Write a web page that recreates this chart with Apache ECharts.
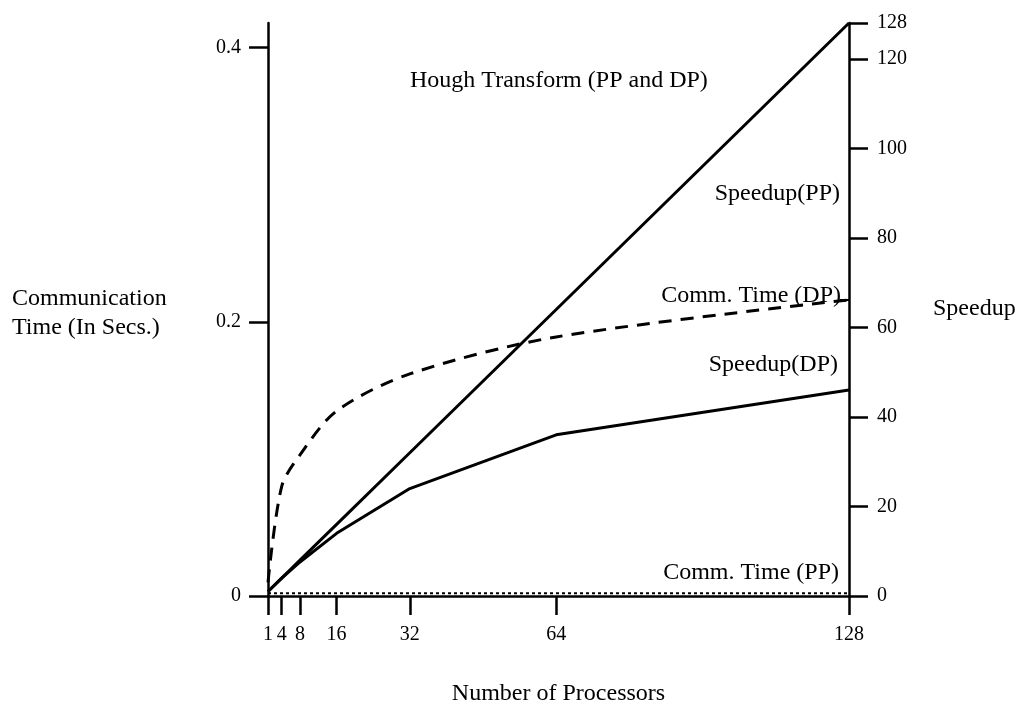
<!DOCTYPE html>
<html>
<head>
<meta charset="utf-8">
<script src="https://cdn.jsdelivr.net/npm/echarts@6/dist/echarts.min.js"></script>
<style>
    html, body { margin: 0; padding: 0; background: #fff; }
    #chart { width: 1020px; height: 703px; }
</style>
</head>
<body>
<div id="chart"></div>
<script>
    // 处理器数量
    var processors = [1, 4, 8, 16, 32, 64, 128];
    // 加速比
    var speedupPP = [1, 4, 8, 16, 32, 64, 128];
    var speedupDP = [1, 4, 7.6, 14, 24, 36, 46];
    // 通信时间 (秒)
    var commTimeDP = [0.01, 0.08, 0.103, 0.135, 0.162, 0.189, 0.216];
    var commTimePP = [0.002, 0.002, 0.002, 0.002, 0.002, 0.002, 0.002];
    // 刻度
    var leftTicks = [0, 0.2, 0.4];
    var rightTicks = [0, 20, 40, 60, 80, 100, 120, 128];

    function pairs(xs, ys) {
        return xs.map(function (x, i) { return [x, ys[i]]; });
    }

    var font = "Liberation Serif";
    var ink = "#000";
    var bigFont = "24px " + font;

    var myChart = echarts.init(document.getElementById("chart"));
    myChart.setOption({
        animation: false,
        textStyle: { fontFamily: font, color: ink },
        grid: { left: 268, right: 171, top: 23, bottom: 107, outerBoundsMode: "none" },
        xAxis: {
            type: "value",
            min: 1,
            max: 128,
            name: "Number of Processors",
            nameLocation: "middle",
            nameGap: 86,
            nameTextStyle: { fontFamily: font, fontSize: 24, color: ink },
            axisLine: { lineStyle: { color: ink, width: 2.5 } },
            axisTick: { length: 19, customValues: processors, lineStyle: { color: ink, width: 2.5 } },
            axisLabel: { customValues: processors, margin: 29, fontFamily: font, fontSize: 20, color: ink },
            splitLine: { show: false }
        },
        yAxis: [{
            type: "value",
            position: "left",
            min: 0,
            max: 0.418,
            axisLine: { show: true, lineStyle: { color: ink, width: 2.5 } },
            axisTick: { show: true, length: 19, customValues: leftTicks, lineStyle: { color: ink, width: 2.5 } },
            axisLabel: { customValues: leftTicks, margin: 27, fontFamily: font, fontSize: 20, color: ink },
            splitLine: { show: false }
        }, {
            type: "value",
            position: "right",
            min: 0,
            max: 128,
            axisLine: { show: true, lineStyle: { color: ink, width: 2.5 } },
            axisTick: { show: true, length: 19, customValues: rightTicks, lineStyle: { color: ink, width: 2.5 } },
            axisLabel: { customValues: rightTicks, margin: 28, fontFamily: font, fontSize: 20, color: ink },
            splitLine: { show: false }
        }],
        series: [{
            name: "Speedup(PP)",
            type: "line",
            yAxisIndex: 1,
            showSymbol: false,
            data: pairs(processors, speedupPP),
            lineStyle: { color: ink, width: 3 }
        }, {
            name: "Speedup(DP)",
            type: "line",
            yAxisIndex: 1,
            showSymbol: false,
            data: pairs(processors, speedupDP),
            lineStyle: { color: ink, width: 3 }
        }, {
            name: "Comm. Time (DP)",
            type: "line",
            yAxisIndex: 0,
            showSymbol: false,
            smooth: 0.3,
            data: pairs(processors, commTimeDP),
            lineStyle: { color: ink, width: 3, type: [13, 9] }
        }, {
            name: "Comm. Time (PP)",
            type: "line",
            yAxisIndex: 0,
            showSymbol: false,
            data: pairs(processors, commTimePP),
            lineStyle: { color: ink, width: 2, type: [3, 3] }
        }],
        //图中文字标注 & 坐标轴标题
        graphic: [
            { type: "text", left: 12, top: 284, style: { text: "Communication\nTime (In Secs.)", font: bigFont, lineHeight: 29, fill: ink } },
            { type: "text", left: 933, top: 297, style: { text: "Speedup", font: bigFont, fill: ink } },
            { type: "text", left: 410, top: 69, style: { text: "Hough Transform (PP and DP)", font: bigFont, fill: ink } },
            { type: "text", right: 180, top: 182, style: { text: "Speedup(PP)", font: bigFont, fill: ink } },
            { type: "text", right: 179, top: 284, style: { text: "Comm. Time (DP)", font: bigFont, fill: ink } },
            { type: "line", shape: { x1: 840, y1: 300, x2: 849, y2: 300 }, style: { stroke: ink, lineWidth: 2 } },
            { type: "text", right: 182, top: 353, style: { text: "Speedup(DP)", font: bigFont, fill: ink } },
            { type: "text", right: 181, top: 561, style: { text: "Comm. Time (PP)", font: bigFont, fill: ink } }
        ]
    });
</script>
</body>
</html>
